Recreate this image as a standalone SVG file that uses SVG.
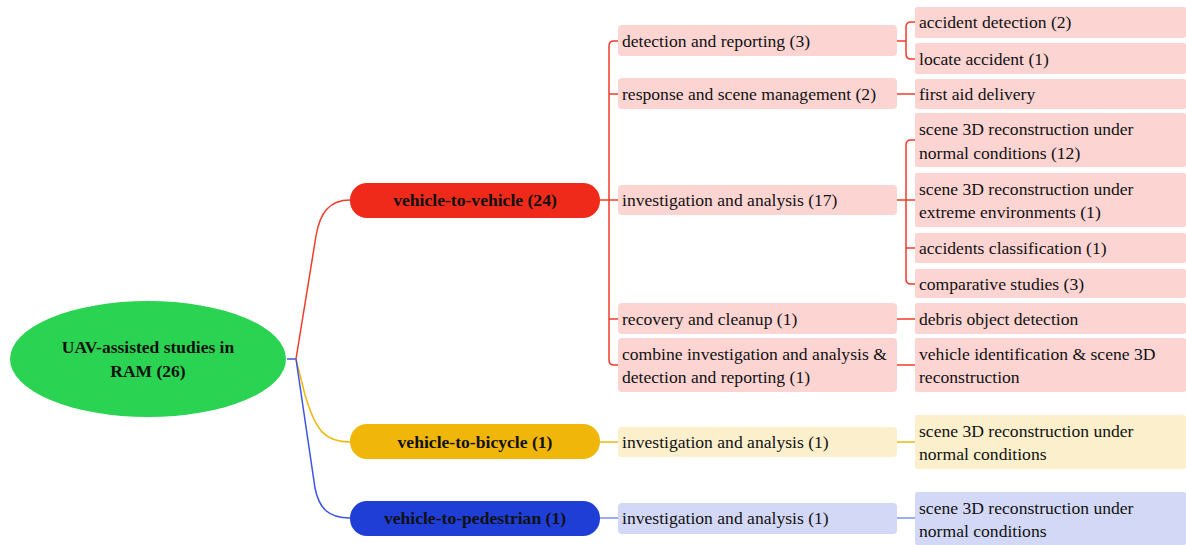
<svg xmlns="http://www.w3.org/2000/svg" width="1186" height="545" viewBox="0 0 1186 545">
<style>
text{font-family:'Liberation Serif',serif;font-size:17.6px;fill:#111}
.b{font-weight:bold;font-size:17.6px}
.rt{font-weight:bold;font-size:17.5px}
.l2r{fill:#fcd5d3}.l2y{fill:#fbefcc}.l2b{fill:#d3d8f6}
.cr{stroke:#f23c2a;fill:none;stroke-width:1.5}
.cy{stroke:#f0b70c;fill:none;stroke-width:1.5}
.cb{stroke:#3c55e4;fill:none;stroke-width:1.5}
.cb2{stroke:#7d8ff0;fill:none;stroke-width:1.5}
</style>
<g id="connectors">
<path class="cb" d="M287,359 H296"/>
<path class="cr" d="M296,359 L316,236 C320,212 330,200 350,200"/>
<path class="cy" d="M296,359 L305,395 C316,432 326,442 350,442"/>
<path class="cb" d="M296,359 L315,488 C319,508 328,518 350,518"/>
<path class="cr" d="M600,200 H618 M618,41 H614 Q609,41 609,46 V360 Q609,365 614,365 H618 M609,94 H618 M609,319 H618"/>
<path class="cy" d="M600,442 H618"/>
<path class="cb2" d="M600,518 H618"/>
<path class="cr" d="M897,41 H906 M915,22 H911 Q906,22 906,27 V54 Q906,59 911,59 H915"/>
<path class="cr" d="M897,94 H915"/>
<path class="cr" d="M897,200 H915 M915,140 H911 Q906,140 906,145 V279 Q906,284 911,284 H915 M906,248 H915"/>
<path class="cr" d="M897,319 H915 M897,365 H915"/>
<path class="cy" d="M897,442 H915"/>
<path class="cb2" d="M897,518 H915"/>
</g>
<g id="root"><ellipse cx="148" cy="359" rx="138" ry="58" fill="#2bd352"/>
<text class="rt" x="148" y="353" text-anchor="middle">UAV-assisted studies in</text>
<text class="rt" x="148" y="377" text-anchor="middle">RAM (26)</text></g>
<g id="v2v"><rect x="350" y="183" width="250" height="35" rx="17" fill="#f02a1a"/><text class="b" x="475" y="206" text-anchor="middle">vehicle-to-vehicle (24)</text></g>
<g id="v2b"><rect x="350" y="424" width="250" height="35" rx="17" fill="#f0b70a"/><text class="b" x="475" y="448" text-anchor="middle">vehicle-to-bicycle (1)</text></g>
<g id="v2p"><rect x="350" y="501" width="250" height="35" rx="17" fill="#1f3ed6"/><text class="b" x="475" y="524" text-anchor="middle">vehicle-to-pedestrian (1)</text></g>
<g id="detrep"><rect class="l2r" x="618" y="25" width="279" height="31" rx="4"/><text x="622" y="47">detection and reporting (3)</text></g>
<g id="resp"><rect class="l2r" x="618" y="78" width="279" height="31" rx="4"/><text x="622" y="100">response and scene management (2)</text></g>
<g id="inv17"><rect class="l2r" x="618" y="185" width="279" height="30" rx="4"/><text x="622" y="206">investigation and analysis (17)</text></g>
<g id="recov"><rect class="l2r" x="618" y="303" width="279" height="31" rx="4"/><text x="622" y="325">recovery and cleanup (1)</text></g>
<g id="combine"><rect class="l2r" x="618" y="338" width="279" height="54" rx="4"/><text x="622" y="360">combine investigation and analysis &amp;</text><text x="622" y="383">detection and reporting (1)</text></g>
<g id="invb"><rect class="l2y" x="618" y="427" width="279" height="30" rx="4"/><text x="622" y="448">investigation and analysis (1)</text></g>
<g id="invp"><rect class="l2b" x="618" y="503" width="279" height="31" rx="4"/><text x="622" y="524">investigation and analysis (1)</text></g>
<g id="accdet"><rect class="l2r" x="915" y="7" width="271" height="31" rx="2"/><text x="919" y="28">accident detection (2)</text></g>
<g id="locate"><rect class="l2r" x="915" y="43" width="271" height="31" rx="2"/><text x="919" y="65">locate accident (1)</text></g>
<g id="firstaid"><rect class="l2r" x="915" y="79" width="271" height="30" rx="2"/><text x="919" y="100">first aid delivery</text></g>
<g id="s3dn"><rect class="l2r" x="915" y="113" width="271" height="54" rx="2"/><text x="919" y="135">scene 3D reconstruction under</text><text x="919" y="159">normal conditions (12)</text></g>
<g id="s3de"><rect class="l2r" x="915" y="173" width="271" height="54" rx="2"/><text x="919" y="195">scene 3D reconstruction under</text><text x="919" y="218">extreme environments (1)</text></g>
<g id="accclass"><rect class="l2r" x="915" y="233" width="271" height="30" rx="2"/><text x="919" y="254">accidents classification (1)</text></g>
<g id="compar"><rect class="l2r" x="915" y="269" width="271" height="29" rx="2"/><text x="919" y="290">comparative studies (3)</text></g>
<g id="debris"><rect class="l2r" x="915" y="303" width="271" height="31" rx="2"/><text x="919" y="325">debris object detection</text></g>
<g id="vehid"><rect class="l2r" x="915" y="338" width="271" height="54" rx="2"/><text x="919" y="360">vehicle identification &amp; scene 3D</text><text x="919" y="383">reconstruction</text></g>
<g id="s3db"><rect class="l2y" x="915" y="415" width="271" height="54" rx="2"/><text x="919" y="437">scene 3D reconstruction under</text><text x="919" y="460">normal conditions</text></g>
<g id="s3dp"><rect class="l2b" x="915" y="492" width="271" height="53" rx="2"/><text x="919" y="514">scene 3D reconstruction under</text><text x="919" y="537">normal conditions</text></g>
</svg>
